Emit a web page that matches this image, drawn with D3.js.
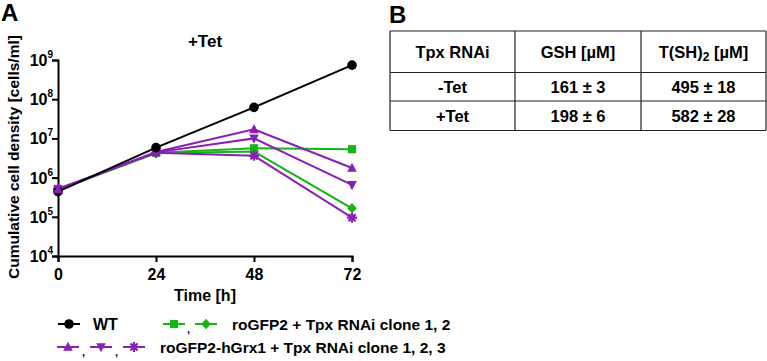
<!DOCTYPE html>
<html>
<head>
<meta charset="utf-8">
<script src="https://d3js.org/d3.v7.min.js"></script>
<style>
  body { margin: 0; background: #fff; }
  svg { font-family: "Liberation Sans", Arial, sans-serif; font-weight: bold; }
</style>
</head>
<body>
<div id="chart"></div>
<script>
// time points (h)
var hours = [0, 24, 48, 72];
var yTicks = [4, 5, 6, 7, 8, 9];

// cumulative cell density per line
var wt      = [4.4e5, 5.8e6, 6.2e7, 7.4e8];
var gfpC1   = [5.0e5, 4.3e6, 5.6e6, 5.3e6];
var gfpC2   = [4.8e5, 4.2e6, 4.6e6, 1.65e5];
var grxC1   = [5.0e5, 4.5e6, 1.7e7, 1.76e6];
var grxC2   = [5.0e5, 4.4e6, 1.0e7, 6.5e5];
var grxC3   = [5.2e5, 4.3e6, 3.6e6, 9.5e4];

// table B
var tableHead = ["Tpx RNAi", "GSH [µM]", "T(SH)2 [µM]"];
var tableRows = [["-Tet", "161 ± 3", "495 ± 18"], ["+Tet", "198 ± 6", "582 ± 28"]];

var purple = "#8a20b5", green = "#16b416";

var series = [
  {name: "wt", vals: wt, color: "#000", shape: "circle"},
  {name: "gfp1", vals: gfpC1, color: green, shape: "square"},
  {name: "gfp2", vals: gfpC2, color: green, shape: "diamond"},
  {name: "grx1", vals: grxC1, color: purple, shape: "up"},
  {name: "grx2", vals: grxC2, color: purple, shape: "down"},
  {name: "grx3", vals: grxC3, color: purple, shape: "star"}
];

var svg = d3.select("#chart").append("svg")
  .attr("width", 767).attr("height", 361);

// marker path generator
function marker(shape, r) {
  if (shape == "circle") return d3.symbol(d3.symbolCircle, Math.PI * r * r)();
  if (shape == "square") return d3.symbol(d3.symbolSquare, (2 * r * 0.85) * (2 * r * 0.85))();
  if (shape == "diamond") return "M0," + (-r * 1.1) + "L" + r + ",0L0," + (r * 1.1) + "L" + (-r) + ",0Z";
  if (shape == "up") return "M0," + (-r * 1.1) + "L" + r + "," + (r * 0.8) + "L" + (-r) + "," + (r * 0.8) + "Z";
  if (shape == "down") return "M0," + (r * 1.1) + "L" + r + "," + (-r * 0.8) + "L" + (-r) + "," + (-r * 0.8) + "Z";
  // asterisk, 8 spokes
  var p = "";
  for (var a = 0; a < 4; a++) {
    var t = a * Math.PI / 4;
    var dx = Math.cos(t) * r * 1.05, dy = Math.sin(t) * r * 1.05;
    p += "M" + (-dx) + "," + (-dy) + "L" + dx + "," + dy;
  }
  return p;
}

function drawMarker(g, shape, color, x, y, r) {
  var m = g.append("path")
    .attr("d", marker(shape, r))
    .attr("transform", "translate(" + x + "," + y + ")");
  if (shape == "star") m.attr("fill", "none").attr("stroke", color).attr("stroke-width", 2.2);
  else m.attr("fill", color);
}

// ---- panel A ----
var x = d3.scaleLinear().domain([0, 72]).range([58, 352]);
var y = d3.scaleLog().domain([1e4, 1e9]).range([256, 60]);

svg.append("text").attr("x", 1).attr("y", 21).style("font-size", "24px").text("A");
svg.append("text").attr("x", 205).attr("y", 47).attr("text-anchor", "middle")
  .style("font-size", "17px").text("+Tet");

var xAxis = svg.append("g").attr("transform", "translate(0,256)")
  .call(d3.axisBottom(x).tickValues(hours).tickSize(6).tickFormat(d3.format("d")));
var yAxis = svg.append("g").attr("transform", "translate(58,0)")
  .call(d3.axisLeft(y).tickValues(yTicks.map(function(e) { return Math.pow(10, e); }))
    .tickSize(6).tickFormat(""));
[xAxis, yAxis].forEach(function(a) {
  a.select(".domain").attr("stroke", "#000").attr("stroke-width", 2);
  a.selectAll(".tick line").attr("stroke", "#000").attr("stroke-width", 2);
});
xAxis.selectAll(".tick text").attr("dy", "0.95em")
  .style("font-size", "16px").style("font-family", "Liberation Sans, Arial").style("font-weight", "bold");

// y tick labels: 10 with superscript exponent
yTicks.forEach(function(e) {
  var t = svg.append("text").attr("x", 53).attr("y", y(Math.pow(10, e)) + 6)
    .attr("text-anchor", "end").style("font-size", "16px");
  t.append("tspan").text("10");
  t.append("tspan").attr("dy", -8).style("font-size", "10px").text(e);
});

svg.append("text")
  .attr("transform", "translate(19,157) rotate(-90)")
  .attr("text-anchor", "middle").style("font-size", "15.5px")
  .text("Cumulative cell density [cells/ml]");
svg.append("text").attr("x", 205).attr("y", 301).attr("text-anchor", "middle")
  .style("font-size", "16px").text("Time [h]");

var line = d3.line()
  .x(function(d, i) { return x(hours[i]); })
  .y(function(d) { return y(d); });

var order = ["gfp1", "gfp2", "grx3", "grx2", "grx1", "wt"];
order.forEach(function(n) {
  var s = series.filter(function(d) { return d.name == n; })[0];
  var g = svg.append("g");
  g.append("path").datum(s.vals).attr("d", line)
    .attr("fill", "none").attr("stroke", s.color).attr("stroke-width", 2);
  s.vals.forEach(function(v, i) {
    drawMarker(g, s.shape, s.color, x(hours[i]), y(v), 4.8);
  });
});
// purple marker on top at t=0 like the reference
drawMarker(svg, "up", purple, x(0), y(grxC1[0]), 4.8);

// ---- legend ----
function legendItem(x0, yy, shape, color) {
  var g = svg.append("g");
  g.append("line").attr("x1", x0).attr("x2", x0 + 22).attr("y1", yy).attr("y2", yy)
    .attr("stroke", color).attr("stroke-width", 2);
  drawMarker(g, shape, color, x0 + 11, yy, 4.8);
}
legendItem(58, 324, "circle", "#000");
svg.append("text").attr("x", 93).attr("y", 330).style("font-size", "16px").text("WT");
legendItem(163, 324, "square", green);
svg.append("text").attr("x", 187).attr("y", 333).style("font-size", "11px").text(",");
legendItem(195, 324, "diamond", green);
svg.append("text").attr("x", 232).attr("y", 330).style("font-size", "15.5px").text("roGFP2 + Tpx RNAi clone 1, 2");

legendItem(57, 347, "up", purple);
svg.append("text").attr("x", 82).attr("y", 356).style("font-size", "11px").text(",");
legendItem(90, 347, "down", purple);
svg.append("text").attr("x", 115).attr("y", 356).style("font-size", "11px").text(",");
legendItem(123, 347, "star", purple);
svg.append("text").attr("x", 160).attr("y", 353).style("font-size", "15.5px").text("roGFP2-hGrx1 + Tpx RNAi clone 1, 2, 3");

// ---- panel B table ----
svg.append("text").attr("x", 389).attr("y", 23).style("font-size", "24px").text("B");
var colX = [390, 515, 641, 766];
var rowY = [31, 72.5, 101, 130.5];
var tb = svg.append("g").attr("stroke", "#222").attr("stroke-width", 1.2);
colX.forEach(function(cx) {
  tb.append("line").attr("x1", cx).attr("x2", cx).attr("y1", rowY[0]).attr("y2", rowY[3]);
});
rowY.forEach(function(ry) {
  tb.append("line").attr("x1", colX[0]).attr("x2", colX[3]).attr("y1", ry).attr("y2", ry);
});
var rows = [tableHead].concat(tableRows);
rows.forEach(function(r, ri) {
  var cy = (rowY[ri] + rowY[ri + 1]) / 2 + 6;
  r.forEach(function(c, ci) {
    var cx = (colX[ci] + colX[ci + 1]) / 2;
    var t = svg.append("text").attr("x", cx).attr("y", cy).attr("text-anchor", "middle")
      .style("font-size", "16.5px");
    if (c.indexOf("SH)2") >= 0) {
      var parts = c.split("2");
      t.append("tspan").text(parts[0]);
      t.append("tspan").attr("dy", 3).style("font-size", "12px").text("2");
      t.append("tspan").attr("dy", -3).text(parts[1]);
    } else {
      t.text(c);
    }
  });
});
</script>
</body>
</html>
